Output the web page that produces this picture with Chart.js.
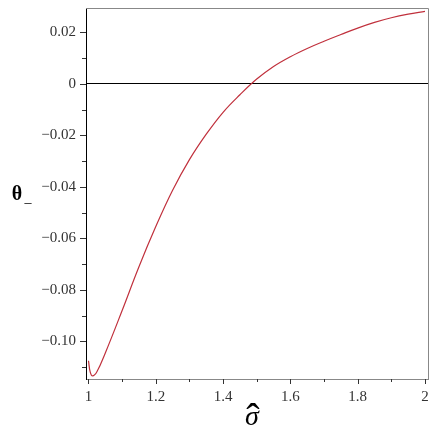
<!DOCTYPE html>
<html>
<head>
<meta charset="utf-8">
<script src="https://cdn.jsdelivr.net/npm/chart.js@4"></script>
<style>
  html, body { margin: 0; padding: 0; background: #fff; }
  #wrap { width: 436px; height: 436px; }
</style>
</head>
<body>
<div id="wrap"><canvas id="thetaChart" width="436" height="436"></canvas></div>
<script>
// values
var sigmaHat = [1.000, 1.005, 1.012, 1.025, 1.050, 1.100, 1.150, 1.200, 1.250, 1.300, 1.350, 1.400, 1.450, 1.500, 1.550, 1.600, 1.650, 1.700, 1.750, 1.800, 1.850, 1.900, 1.950, 2.000];
var thetaMinus = [-0.1075, -0.1118, -0.1134, -0.1118, -0.1045, -0.0880, -0.0710, -0.0554, -0.0413, -0.0294, -0.0195, -0.0110, -0.0042, 0.0019, 0.0068, 0.0106, 0.0138, 0.0166, 0.0192, 0.0217, 0.0239, 0.0257, 0.0271, 0.0282];

var xMajor = [1, 1.2, 1.4, 1.6, 1.8, 2];
var xMinor = [1.1, 1.3, 1.5, 1.7, 1.9];
var yMajor = [0.02, 0, -0.02, -0.04, -0.06, -0.08, -0.10];
var yMinor = [0.01, -0.01, -0.03, -0.05, -0.07, -0.09, -0.11];
var yLabels = ['0.02', '0', '\u22120.02', '\u22120.04', '\u22120.06', '\u22120.08', '\u22120.10'];
var xLabels = ['1', '1.2', '1.4', '1.6', '1.8', '2'];

var points = [];
for (var i = 0; i < sigmaHat.length; i++) {
  points.push({x: sigmaHat[i], y: thetaMinus[i]});
}

// ticks, frame and axis titles
var framePlugin = {
  id: 'frame',
  afterDraw: function(chart) {
    var ctx = chart.ctx;
    var a = chart.chartArea;
    var xs = chart.scales.x, ys = chart.scales.y;
    ctx.save();
    ctx.lineWidth = 1;
    ctx.strokeStyle = '#888';
    ctx.beginPath();
    ctx.moveTo(a.left, a.top + 0.5);
    ctx.lineTo(a.right + 0.5, a.top + 0.5);
    ctx.lineTo(a.right + 0.5, a.bottom);
    ctx.stroke();

    ctx.strokeStyle = '#333';
    function tick(list, len, horiz) {
      list.forEach(function(v) {
        ctx.beginPath();
        if (horiz) {
          var py = Math.round(ys.getPixelForValue(v)) + 0.5;
          ctx.moveTo(a.left - len, py);
          ctx.lineTo(a.left, py);
        } else {
          var px = Math.round(xs.getPixelForValue(v)) + 0.5;
          ctx.moveTo(px, a.bottom);
          ctx.lineTo(px, a.bottom + len);
        }
        ctx.stroke();
      });
    }
    tick(yMajor, 6, true);
    tick(yMinor, 4, true);
    tick(xMajor, 5, false);
    tick(xMinor, 3, false);

    ctx.fillStyle = '#000';
    ctx.textAlign = 'center';
    ctx.textBaseline = 'alphabetic';
    ctx.font = 'italic 28px "Liberation Serif"';
    ctx.fillText('\u03c3', 252, 425);
    ctx.font = '40px "Liberation Serif"';
    ctx.fillText('\u02c6', 253, 431);

    ctx.font = 'bold 20px "Liberation Serif"';
    ctx.fillText('\u03b8', 17, 200);
    ctx.font = '14px "Liberation Serif"';
    ctx.fillText('_', 28, 202);
    ctx.restore();
  }
};

var ctx = document.getElementById('thetaChart');
var thetaChart = new Chart(ctx, {
  type: 'scatter',
  data: {
    datasets: [{
      data: points,
      showLine: true,
      borderColor: '#c0303c',
      borderWidth: 1.2,
      pointRadius: 0,
      tension: 0.4,
      fill: false
    }]
  },
  options: {
    responsive: false,
    animation: false,
    events: [],
    layout: { padding: { left: 0, top: 8, right: 8, bottom: 0 } },
    plugins: { legend: { display: false }, tooltip: { enabled: false } },
    scales: {
      x: {
        type: 'linear',
        min: 0.9926,
        max: 2.009,
        afterBuildTicks: function(scale) {
          scale.ticks = xMajor.map(function(v) { return {value: v}; });
        },
        afterFit: function(scale) {
          scale.height = 57;
          scale.paddingLeft = 0;
          scale.paddingRight = 0;
        },
        grid: { display: true, drawOnChartArea: false, drawTicks: false, color: 'transparent' },
        border: { display: true, color: '#888', width: 1 },
        ticks: {
          padding: 9,
          color: '#333',
          font: { family: '"Liberation Serif"', size: 15 },
          callback: function(v) { return xLabels[xMajor.indexOf(v)]; }
        }
      },
      y: {
        type: 'linear',
        min: -0.1146,
        max: 0.0295,
        afterBuildTicks: function(scale) {
          scale.ticks = yMajor.map(function(v) { return {value: v}; });
        },
        afterFit: function(scale) {
          scale.width = 86;
          scale.paddingTop = 0;
          scale.paddingBottom = 0;
        },
        grid: {
          drawOnChartArea: true,
          drawTicks: false,
          lineWidth: 1,
          color: function(c) { return c.tick && c.tick.value === 0 ? '#000' : 'transparent'; }
        },
        border: { display: true, color: '#000', width: 1 },
        ticks: {
          padding: 10,
          color: '#333',
          font: { family: '"Liberation Serif"', size: 15 },
          callback: function(v) { return yLabels[yMajor.indexOf(v)]; }
        }
      }
    }
  },
  plugins: [framePlugin]
});
</script>
</body>
</html>
